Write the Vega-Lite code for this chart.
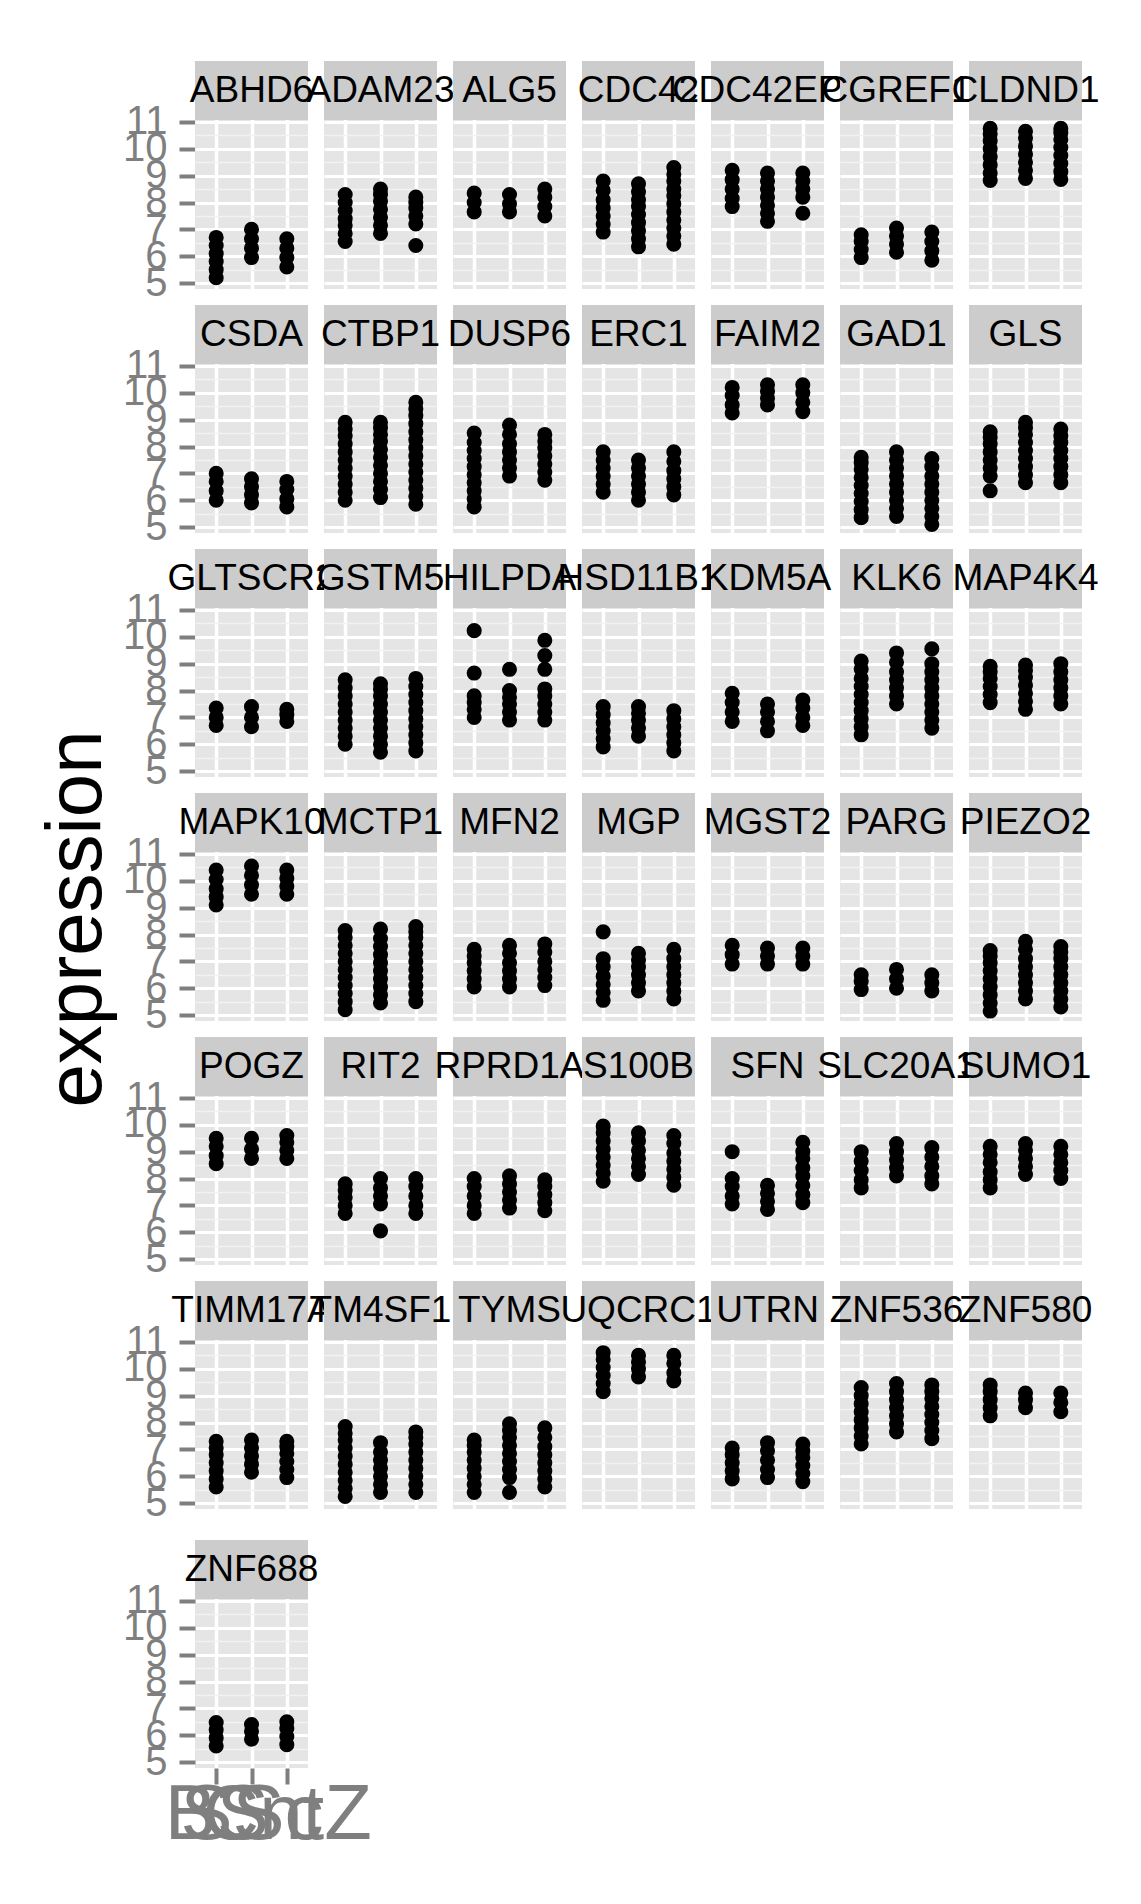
{
"$schema": "https://vega.github.io/schema/vega-lite/v6.json",
"background": "white",
"padding": {"left": 38, "top": 60, "right": 0, "bottom": 0},
"title": {"text": "expression", "orient": "left", "anchor": "middle", "fontSize": 78, "font": "Liberation Sans", "fontWeight": "normal", "color": "black", "offset": 6, "dx": 38},
"config": {
  "view": {"fill": "#E5E5E5", "stroke": null},
  "font": "Liberation Sans",
  "header": {"labels": false, "title": null, "labelFontSize": 1, "labelPadding": 0},
  "headerFacet": {"labels": false, "title": null, "labelFontSize": 1, "labelPadding": 0},
  "axis": {"labelOverlap": false},
  "axisY": {"labelOverlap": false, "labelFlush": false, "labelBound": false},
  "axisX": {"labelOverlap": false, "labelFlush": false, "labelBound": false}
},
"datasets": {"d": [
{"gene":"ABHD6","grp":"BS","expr":5.2},{"gene":"ABHD6","grp":"BS","expr":5.5},{"gene":"ABHD6","grp":"BS","expr":5.8},{"gene":"ABHD6","grp":"BS","expr":6.1},{"gene":"ABHD6","grp":"BS","expr":6.4},{"gene":"ABHD6","grp":"BS","expr":6.7},
{"gene":"ABHD6","grp":"SSc","expr":5.95},{"gene":"ABHD6","grp":"SSc","expr":6.3},{"gene":"ABHD6","grp":"SSc","expr":6.65},{"gene":"ABHD6","grp":"SSc","expr":7.0},
{"gene":"ABHD6","grp":"CntZ","expr":5.6},{"gene":"ABHD6","grp":"CntZ","expr":5.95},{"gene":"ABHD6","grp":"CntZ","expr":6.3},{"gene":"ABHD6","grp":"CntZ","expr":6.65},
{"gene":"ADAM23","grp":"BS","expr":6.55},{"gene":"ADAM23","grp":"BS","expr":6.85},{"gene":"ADAM23","grp":"BS","expr":7.15},{"gene":"ADAM23","grp":"BS","expr":7.4},{"gene":"ADAM23","grp":"BS","expr":7.7},{"gene":"ADAM23","grp":"BS","expr":8.0},{"gene":"ADAM23","grp":"BS","expr":8.3},
{"gene":"ADAM23","grp":"SSc","expr":6.85},{"gene":"ADAM23","grp":"SSc","expr":7.15},{"gene":"ADAM23","grp":"SSc","expr":7.45},{"gene":"ADAM23","grp":"SSc","expr":7.75},{"gene":"ADAM23","grp":"SSc","expr":8.05},{"gene":"ADAM23","grp":"SSc","expr":8.3},{"gene":"ADAM23","grp":"SSc","expr":8.5},
{"gene":"ADAM23","grp":"CntZ","expr":6.4},{"gene":"ADAM23","grp":"CntZ","expr":7.2},{"gene":"ADAM23","grp":"CntZ","expr":7.5},{"gene":"ADAM23","grp":"CntZ","expr":7.8},{"gene":"ADAM23","grp":"CntZ","expr":8.0},{"gene":"ADAM23","grp":"CntZ","expr":8.2},
{"gene":"ALG5","grp":"BS","expr":7.65},{"gene":"ALG5","grp":"BS","expr":8.0},{"gene":"ALG5","grp":"BS","expr":8.35},
{"gene":"ALG5","grp":"SSc","expr":7.65},{"gene":"ALG5","grp":"SSc","expr":7.95},{"gene":"ALG5","grp":"SSc","expr":8.3},
{"gene":"ALG5","grp":"CntZ","expr":7.5},{"gene":"ALG5","grp":"CntZ","expr":7.85},{"gene":"ALG5","grp":"CntZ","expr":8.2},{"gene":"ALG5","grp":"CntZ","expr":8.5},
{"gene":"CDC42","grp":"BS","expr":6.9},{"gene":"CDC42","grp":"BS","expr":7.2},{"gene":"CDC42","grp":"BS","expr":7.5},{"gene":"CDC42","grp":"BS","expr":7.8},{"gene":"CDC42","grp":"BS","expr":8.1},{"gene":"CDC42","grp":"BS","expr":8.45},{"gene":"CDC42","grp":"BS","expr":8.8},
{"gene":"CDC42","grp":"SSc","expr":6.35},{"gene":"CDC42","grp":"SSc","expr":6.65},{"gene":"CDC42","grp":"SSc","expr":6.95},{"gene":"CDC42","grp":"SSc","expr":7.25},{"gene":"CDC42","grp":"SSc","expr":7.55},{"gene":"CDC42","grp":"SSc","expr":7.85},{"gene":"CDC42","grp":"SSc","expr":8.1},{"gene":"CDC42","grp":"SSc","expr":8.4},{"gene":"CDC42","grp":"SSc","expr":8.7},
{"gene":"CDC42","grp":"CntZ","expr":6.45},{"gene":"CDC42","grp":"CntZ","expr":6.75},{"gene":"CDC42","grp":"CntZ","expr":7.05},{"gene":"CDC42","grp":"CntZ","expr":7.35},{"gene":"CDC42","grp":"CntZ","expr":7.65},{"gene":"CDC42","grp":"CntZ","expr":7.95},{"gene":"CDC42","grp":"CntZ","expr":8.25},{"gene":"CDC42","grp":"CntZ","expr":8.5},{"gene":"CDC42","grp":"CntZ","expr":8.8},{"gene":"CDC42","grp":"CntZ","expr":9.05},{"gene":"CDC42","grp":"CntZ","expr":9.3},
{"gene":"CDC42EP3","grp":"BS","expr":7.85},{"gene":"CDC42EP3","grp":"BS","expr":8.15},{"gene":"CDC42EP3","grp":"BS","expr":8.5},{"gene":"CDC42EP3","grp":"BS","expr":8.85},{"gene":"CDC42EP3","grp":"BS","expr":9.2},
{"gene":"CDC42EP3","grp":"SSc","expr":7.3},{"gene":"CDC42EP3","grp":"SSc","expr":7.6},{"gene":"CDC42EP3","grp":"SSc","expr":7.9},{"gene":"CDC42EP3","grp":"SSc","expr":8.2},{"gene":"CDC42EP3","grp":"SSc","expr":8.5},{"gene":"CDC42EP3","grp":"SSc","expr":8.8},{"gene":"CDC42EP3","grp":"SSc","expr":9.1},
{"gene":"CDC42EP3","grp":"CntZ","expr":7.6},{"gene":"CDC42EP3","grp":"CntZ","expr":8.2},{"gene":"CDC42EP3","grp":"CntZ","expr":8.5},{"gene":"CDC42EP3","grp":"CntZ","expr":8.8},{"gene":"CDC42EP3","grp":"CntZ","expr":9.1},
{"gene":"CGREF1","grp":"BS","expr":5.95},{"gene":"CGREF1","grp":"BS","expr":6.25},{"gene":"CGREF1","grp":"BS","expr":6.55},{"gene":"CGREF1","grp":"BS","expr":6.8},
{"gene":"CGREF1","grp":"SSc","expr":6.15},{"gene":"CGREF1","grp":"SSc","expr":6.45},{"gene":"CGREF1","grp":"SSc","expr":6.75},{"gene":"CGREF1","grp":"SSc","expr":7.05},
{"gene":"CGREF1","grp":"CntZ","expr":5.85},{"gene":"CGREF1","grp":"CntZ","expr":6.2},{"gene":"CGREF1","grp":"CntZ","expr":6.55},{"gene":"CGREF1","grp":"CntZ","expr":6.9},
{"gene":"CLDND1","grp":"BS","expr":8.82},{"gene":"CLDND1","grp":"BS","expr":9.1},{"gene":"CLDND1","grp":"BS","expr":9.4},{"gene":"CLDND1","grp":"BS","expr":9.7},{"gene":"CLDND1","grp":"BS","expr":10.0},{"gene":"CLDND1","grp":"BS","expr":10.3},{"gene":"CLDND1","grp":"BS","expr":10.55},{"gene":"CLDND1","grp":"BS","expr":10.76},
{"gene":"CLDND1","grp":"SSc","expr":8.9},{"gene":"CLDND1","grp":"SSc","expr":9.2},{"gene":"CLDND1","grp":"SSc","expr":9.5},{"gene":"CLDND1","grp":"SSc","expr":9.8},{"gene":"CLDND1","grp":"SSc","expr":10.1},{"gene":"CLDND1","grp":"SSc","expr":10.4},{"gene":"CLDND1","grp":"SSc","expr":10.65},
{"gene":"CLDND1","grp":"CntZ","expr":8.86},{"gene":"CLDND1","grp":"CntZ","expr":9.15},{"gene":"CLDND1","grp":"CntZ","expr":9.45},{"gene":"CLDND1","grp":"CntZ","expr":9.75},{"gene":"CLDND1","grp":"CntZ","expr":10.05},{"gene":"CLDND1","grp":"CntZ","expr":10.35},{"gene":"CLDND1","grp":"CntZ","expr":10.6},{"gene":"CLDND1","grp":"CntZ","expr":10.76},
{"gene":"CSDA","grp":"BS","expr":6.0},{"gene":"CSDA","grp":"BS","expr":6.35},{"gene":"CSDA","grp":"BS","expr":6.7},{"gene":"CSDA","grp":"BS","expr":7.0},
{"gene":"CSDA","grp":"SSc","expr":5.9},{"gene":"CSDA","grp":"SSc","expr":6.2},{"gene":"CSDA","grp":"SSc","expr":6.5},{"gene":"CSDA","grp":"SSc","expr":6.8},
{"gene":"CSDA","grp":"CntZ","expr":5.75},{"gene":"CSDA","grp":"CntZ","expr":6.05},{"gene":"CSDA","grp":"CntZ","expr":6.4},{"gene":"CSDA","grp":"CntZ","expr":6.7},
{"gene":"CTBP1","grp":"BS","expr":6.0},{"gene":"CTBP1","grp":"BS","expr":6.3},{"gene":"CTBP1","grp":"BS","expr":6.6},{"gene":"CTBP1","grp":"BS","expr":6.9},{"gene":"CTBP1","grp":"BS","expr":7.2},{"gene":"CTBP1","grp":"BS","expr":7.5},{"gene":"CTBP1","grp":"BS","expr":7.8},{"gene":"CTBP1","grp":"BS","expr":8.1},{"gene":"CTBP1","grp":"BS","expr":8.4},{"gene":"CTBP1","grp":"BS","expr":8.65},{"gene":"CTBP1","grp":"BS","expr":8.9},
{"gene":"CTBP1","grp":"SSc","expr":6.1},{"gene":"CTBP1","grp":"SSc","expr":6.4},{"gene":"CTBP1","grp":"SSc","expr":6.7},{"gene":"CTBP1","grp":"SSc","expr":7.0},{"gene":"CTBP1","grp":"SSc","expr":7.3},{"gene":"CTBP1","grp":"SSc","expr":7.6},{"gene":"CTBP1","grp":"SSc","expr":7.9},{"gene":"CTBP1","grp":"SSc","expr":8.2},{"gene":"CTBP1","grp":"SSc","expr":8.45},{"gene":"CTBP1","grp":"SSc","expr":8.7},{"gene":"CTBP1","grp":"SSc","expr":8.9},
{"gene":"CTBP1","grp":"CntZ","expr":5.85},{"gene":"CTBP1","grp":"CntZ","expr":6.15},{"gene":"CTBP1","grp":"CntZ","expr":6.45},{"gene":"CTBP1","grp":"CntZ","expr":6.75},{"gene":"CTBP1","grp":"CntZ","expr":7.05},{"gene":"CTBP1","grp":"CntZ","expr":7.35},{"gene":"CTBP1","grp":"CntZ","expr":7.65},{"gene":"CTBP1","grp":"CntZ","expr":7.95},{"gene":"CTBP1","grp":"CntZ","expr":8.25},{"gene":"CTBP1","grp":"CntZ","expr":8.55},{"gene":"CTBP1","grp":"CntZ","expr":8.85},{"gene":"CTBP1","grp":"CntZ","expr":9.15},{"gene":"CTBP1","grp":"CntZ","expr":9.4},{"gene":"CTBP1","grp":"CntZ","expr":9.65},
{"gene":"DUSP6","grp":"BS","expr":5.75},{"gene":"DUSP6","grp":"BS","expr":6.05},{"gene":"DUSP6","grp":"BS","expr":6.35},{"gene":"DUSP6","grp":"BS","expr":6.65},{"gene":"DUSP6","grp":"BS","expr":6.95},{"gene":"DUSP6","grp":"BS","expr":7.25},{"gene":"DUSP6","grp":"BS","expr":7.55},{"gene":"DUSP6","grp":"BS","expr":7.85},{"gene":"DUSP6","grp":"BS","expr":8.15},{"gene":"DUSP6","grp":"BS","expr":8.5},
{"gene":"DUSP6","grp":"SSc","expr":6.9},{"gene":"DUSP6","grp":"SSc","expr":7.2},{"gene":"DUSP6","grp":"SSc","expr":7.5},{"gene":"DUSP6","grp":"SSc","expr":7.8},{"gene":"DUSP6","grp":"SSc","expr":8.1},{"gene":"DUSP6","grp":"SSc","expr":8.45},{"gene":"DUSP6","grp":"SSc","expr":8.8},
{"gene":"DUSP6","grp":"CntZ","expr":6.75},{"gene":"DUSP6","grp":"CntZ","expr":7.05},{"gene":"DUSP6","grp":"CntZ","expr":7.35},{"gene":"DUSP6","grp":"CntZ","expr":7.65},{"gene":"DUSP6","grp":"CntZ","expr":7.95},{"gene":"DUSP6","grp":"CntZ","expr":8.2},{"gene":"DUSP6","grp":"CntZ","expr":8.45},
{"gene":"ERC1","grp":"BS","expr":6.3},{"gene":"ERC1","grp":"BS","expr":6.6},{"gene":"ERC1","grp":"BS","expr":6.9},{"gene":"ERC1","grp":"BS","expr":7.2},{"gene":"ERC1","grp":"BS","expr":7.5},{"gene":"ERC1","grp":"BS","expr":7.8},
{"gene":"ERC1","grp":"SSc","expr":6.0},{"gene":"ERC1","grp":"SSc","expr":6.3},{"gene":"ERC1","grp":"SSc","expr":6.6},{"gene":"ERC1","grp":"SSc","expr":6.9},{"gene":"ERC1","grp":"SSc","expr":7.2},{"gene":"ERC1","grp":"SSc","expr":7.5},
{"gene":"ERC1","grp":"CntZ","expr":6.2},{"gene":"ERC1","grp":"CntZ","expr":6.5},{"gene":"ERC1","grp":"CntZ","expr":6.8},{"gene":"ERC1","grp":"CntZ","expr":7.1},{"gene":"ERC1","grp":"CntZ","expr":7.45},{"gene":"ERC1","grp":"CntZ","expr":7.8},
{"gene":"FAIM2","grp":"BS","expr":9.25},{"gene":"FAIM2","grp":"BS","expr":9.55},{"gene":"FAIM2","grp":"BS","expr":9.9},{"gene":"FAIM2","grp":"BS","expr":10.2},
{"gene":"FAIM2","grp":"SSc","expr":9.55},{"gene":"FAIM2","grp":"SSc","expr":9.8},{"gene":"FAIM2","grp":"SSc","expr":10.05},{"gene":"FAIM2","grp":"SSc","expr":10.3},
{"gene":"FAIM2","grp":"CntZ","expr":9.3},{"gene":"FAIM2","grp":"CntZ","expr":9.65},{"gene":"FAIM2","grp":"CntZ","expr":10.0},{"gene":"FAIM2","grp":"CntZ","expr":10.3},
{"gene":"GAD1","grp":"BS","expr":5.35},{"gene":"GAD1","grp":"BS","expr":5.65},{"gene":"GAD1","grp":"BS","expr":5.95},{"gene":"GAD1","grp":"BS","expr":6.25},{"gene":"GAD1","grp":"BS","expr":6.55},{"gene":"GAD1","grp":"BS","expr":6.85},{"gene":"GAD1","grp":"BS","expr":7.15},{"gene":"GAD1","grp":"BS","expr":7.4},{"gene":"GAD1","grp":"BS","expr":7.6},
{"gene":"GAD1","grp":"SSc","expr":5.4},{"gene":"GAD1","grp":"SSc","expr":5.7},{"gene":"GAD1","grp":"SSc","expr":6.0},{"gene":"GAD1","grp":"SSc","expr":6.3},{"gene":"GAD1","grp":"SSc","expr":6.6},{"gene":"GAD1","grp":"SSc","expr":6.9},{"gene":"GAD1","grp":"SSc","expr":7.2},{"gene":"GAD1","grp":"SSc","expr":7.5},{"gene":"GAD1","grp":"SSc","expr":7.8},
{"gene":"GAD1","grp":"CntZ","expr":5.1},{"gene":"GAD1","grp":"CntZ","expr":5.4},{"gene":"GAD1","grp":"CntZ","expr":5.7},{"gene":"GAD1","grp":"CntZ","expr":6.0},{"gene":"GAD1","grp":"CntZ","expr":6.3},{"gene":"GAD1","grp":"CntZ","expr":6.6},{"gene":"GAD1","grp":"CntZ","expr":6.9},{"gene":"GAD1","grp":"CntZ","expr":7.25},{"gene":"GAD1","grp":"CntZ","expr":7.55},
{"gene":"GLS","grp":"BS","expr":6.35},{"gene":"GLS","grp":"BS","expr":6.9},{"gene":"GLS","grp":"BS","expr":7.2},{"gene":"GLS","grp":"BS","expr":7.5},{"gene":"GLS","grp":"BS","expr":7.8},{"gene":"GLS","grp":"BS","expr":8.1},{"gene":"GLS","grp":"BS","expr":8.35},{"gene":"GLS","grp":"BS","expr":8.55},
{"gene":"GLS","grp":"SSc","expr":6.65},{"gene":"GLS","grp":"SSc","expr":6.95},{"gene":"GLS","grp":"SSc","expr":7.25},{"gene":"GLS","grp":"SSc","expr":7.55},{"gene":"GLS","grp":"SSc","expr":7.85},{"gene":"GLS","grp":"SSc","expr":8.15},{"gene":"GLS","grp":"SSc","expr":8.45},{"gene":"GLS","grp":"SSc","expr":8.7},{"gene":"GLS","grp":"SSc","expr":8.9},
{"gene":"GLS","grp":"CntZ","expr":6.65},{"gene":"GLS","grp":"CntZ","expr":6.95},{"gene":"GLS","grp":"CntZ","expr":7.25},{"gene":"GLS","grp":"CntZ","expr":7.55},{"gene":"GLS","grp":"CntZ","expr":7.85},{"gene":"GLS","grp":"CntZ","expr":8.15},{"gene":"GLS","grp":"CntZ","expr":8.4},{"gene":"GLS","grp":"CntZ","expr":8.65},
{"gene":"GLTSCR2","grp":"BS","expr":6.7},{"gene":"GLTSCR2","grp":"BS","expr":7.0},{"gene":"GLTSCR2","grp":"BS","expr":7.35},
{"gene":"GLTSCR2","grp":"SSc","expr":6.65},{"gene":"GLTSCR2","grp":"SSc","expr":7.0},{"gene":"GLTSCR2","grp":"SSc","expr":7.4},
{"gene":"GLTSCR2","grp":"CntZ","expr":6.85},{"gene":"GLTSCR2","grp":"CntZ","expr":7.1},{"gene":"GLTSCR2","grp":"CntZ","expr":7.3},
{"gene":"GSTM5","grp":"BS","expr":6.0},{"gene":"GSTM5","grp":"BS","expr":6.3},{"gene":"GSTM5","grp":"BS","expr":6.6},{"gene":"GSTM5","grp":"BS","expr":6.9},{"gene":"GSTM5","grp":"BS","expr":7.2},{"gene":"GSTM5","grp":"BS","expr":7.5},{"gene":"GSTM5","grp":"BS","expr":7.8},{"gene":"GSTM5","grp":"BS","expr":8.1},{"gene":"GSTM5","grp":"BS","expr":8.4},
{"gene":"GSTM5","grp":"SSc","expr":5.7},{"gene":"GSTM5","grp":"SSc","expr":6.0},{"gene":"GSTM5","grp":"SSc","expr":6.3},{"gene":"GSTM5","grp":"SSc","expr":6.6},{"gene":"GSTM5","grp":"SSc","expr":6.9},{"gene":"GSTM5","grp":"SSc","expr":7.2},{"gene":"GSTM5","grp":"SSc","expr":7.5},{"gene":"GSTM5","grp":"SSc","expr":7.8},{"gene":"GSTM5","grp":"SSc","expr":8.05},{"gene":"GSTM5","grp":"SSc","expr":8.25},
{"gene":"GSTM5","grp":"CntZ","expr":5.75},{"gene":"GSTM5","grp":"CntZ","expr":6.05},{"gene":"GSTM5","grp":"CntZ","expr":6.35},{"gene":"GSTM5","grp":"CntZ","expr":6.65},{"gene":"GSTM5","grp":"CntZ","expr":6.95},{"gene":"GSTM5","grp":"CntZ","expr":7.25},{"gene":"GSTM5","grp":"CntZ","expr":7.55},{"gene":"GSTM5","grp":"CntZ","expr":7.85},{"gene":"GSTM5","grp":"CntZ","expr":8.15},{"gene":"GSTM5","grp":"CntZ","expr":8.45},
{"gene":"HILPDA","grp":"BS","expr":7.0},{"gene":"HILPDA","grp":"BS","expr":7.3},{"gene":"HILPDA","grp":"BS","expr":7.55},{"gene":"HILPDA","grp":"BS","expr":7.8},{"gene":"HILPDA","grp":"BS","expr":8.65},{"gene":"HILPDA","grp":"BS","expr":10.23},
{"gene":"HILPDA","grp":"SSc","expr":6.9},{"gene":"HILPDA","grp":"SSc","expr":7.2},{"gene":"HILPDA","grp":"SSc","expr":7.5},{"gene":"HILPDA","grp":"SSc","expr":7.75},{"gene":"HILPDA","grp":"SSc","expr":8.0},{"gene":"HILPDA","grp":"SSc","expr":8.79},
{"gene":"HILPDA","grp":"CntZ","expr":6.9},{"gene":"HILPDA","grp":"CntZ","expr":7.2},{"gene":"HILPDA","grp":"CntZ","expr":7.5},{"gene":"HILPDA","grp":"CntZ","expr":7.8},{"gene":"HILPDA","grp":"CntZ","expr":8.06},{"gene":"HILPDA","grp":"CntZ","expr":8.79},{"gene":"HILPDA","grp":"CntZ","expr":9.3},{"gene":"HILPDA","grp":"CntZ","expr":9.87},
{"gene":"HSD11B1","grp":"BS","expr":5.9},{"gene":"HSD11B1","grp":"BS","expr":6.2},{"gene":"HSD11B1","grp":"BS","expr":6.5},{"gene":"HSD11B1","grp":"BS","expr":6.8},{"gene":"HSD11B1","grp":"BS","expr":7.1},{"gene":"HSD11B1","grp":"BS","expr":7.4},
{"gene":"HSD11B1","grp":"SSc","expr":6.3},{"gene":"HSD11B1","grp":"SSc","expr":6.6},{"gene":"HSD11B1","grp":"SSc","expr":6.9},{"gene":"HSD11B1","grp":"SSc","expr":7.15},{"gene":"HSD11B1","grp":"SSc","expr":7.4},
{"gene":"HSD11B1","grp":"CntZ","expr":5.75},{"gene":"HSD11B1","grp":"CntZ","expr":6.05},{"gene":"HSD11B1","grp":"CntZ","expr":6.35},{"gene":"HSD11B1","grp":"CntZ","expr":6.65},{"gene":"HSD11B1","grp":"CntZ","expr":6.95},{"gene":"HSD11B1","grp":"CntZ","expr":7.25},
{"gene":"KDM5A","grp":"BS","expr":6.85},{"gene":"KDM5A","grp":"BS","expr":7.2},{"gene":"KDM5A","grp":"BS","expr":7.55},{"gene":"KDM5A","grp":"BS","expr":7.9},
{"gene":"KDM5A","grp":"SSc","expr":6.5},{"gene":"KDM5A","grp":"SSc","expr":6.85},{"gene":"KDM5A","grp":"SSc","expr":7.2},{"gene":"KDM5A","grp":"SSc","expr":7.5},
{"gene":"KDM5A","grp":"CntZ","expr":6.7},{"gene":"KDM5A","grp":"CntZ","expr":7.0},{"gene":"KDM5A","grp":"CntZ","expr":7.35},{"gene":"KDM5A","grp":"CntZ","expr":7.65},
{"gene":"KLK6","grp":"BS","expr":6.35},{"gene":"KLK6","grp":"BS","expr":6.65},{"gene":"KLK6","grp":"BS","expr":6.95},{"gene":"KLK6","grp":"BS","expr":7.25},{"gene":"KLK6","grp":"BS","expr":7.55},{"gene":"KLK6","grp":"BS","expr":7.85},{"gene":"KLK6","grp":"BS","expr":8.15},{"gene":"KLK6","grp":"BS","expr":8.45},{"gene":"KLK6","grp":"BS","expr":8.8},{"gene":"KLK6","grp":"BS","expr":9.1},
{"gene":"KLK6","grp":"SSc","expr":7.5},{"gene":"KLK6","grp":"SSc","expr":7.8},{"gene":"KLK6","grp":"SSc","expr":8.1},{"gene":"KLK6","grp":"SSc","expr":8.4},{"gene":"KLK6","grp":"SSc","expr":8.7},{"gene":"KLK6","grp":"SSc","expr":9.05},{"gene":"KLK6","grp":"SSc","expr":9.4},
{"gene":"KLK6","grp":"CntZ","expr":6.6},{"gene":"KLK6","grp":"CntZ","expr":6.9},{"gene":"KLK6","grp":"CntZ","expr":7.2},{"gene":"KLK6","grp":"CntZ","expr":7.5},{"gene":"KLK6","grp":"CntZ","expr":7.8},{"gene":"KLK6","grp":"CntZ","expr":8.1},{"gene":"KLK6","grp":"CntZ","expr":8.4},{"gene":"KLK6","grp":"CntZ","expr":8.7},{"gene":"KLK6","grp":"CntZ","expr":9.0},{"gene":"KLK6","grp":"CntZ","expr":9.55},
{"gene":"MAP4K4","grp":"BS","expr":7.55},{"gene":"MAP4K4","grp":"BS","expr":7.85},{"gene":"MAP4K4","grp":"BS","expr":8.15},{"gene":"MAP4K4","grp":"BS","expr":8.45},{"gene":"MAP4K4","grp":"BS","expr":8.7},{"gene":"MAP4K4","grp":"BS","expr":8.9},
{"gene":"MAP4K4","grp":"SSc","expr":7.3},{"gene":"MAP4K4","grp":"SSc","expr":7.6},{"gene":"MAP4K4","grp":"SSc","expr":7.9},{"gene":"MAP4K4","grp":"SSc","expr":8.2},{"gene":"MAP4K4","grp":"SSc","expr":8.5},{"gene":"MAP4K4","grp":"SSc","expr":8.75},{"gene":"MAP4K4","grp":"SSc","expr":8.95},
{"gene":"MAP4K4","grp":"CntZ","expr":7.5},{"gene":"MAP4K4","grp":"CntZ","expr":7.8},{"gene":"MAP4K4","grp":"CntZ","expr":8.1},{"gene":"MAP4K4","grp":"CntZ","expr":8.4},{"gene":"MAP4K4","grp":"CntZ","expr":8.7},{"gene":"MAP4K4","grp":"CntZ","expr":9.0},
{"gene":"MAPK10","grp":"BS","expr":9.1},{"gene":"MAPK10","grp":"BS","expr":9.4},{"gene":"MAPK10","grp":"BS","expr":9.7},{"gene":"MAPK10","grp":"BS","expr":10.05},{"gene":"MAPK10","grp":"BS","expr":10.4},
{"gene":"MAPK10","grp":"SSc","expr":9.5},{"gene":"MAPK10","grp":"SSc","expr":9.85},{"gene":"MAPK10","grp":"SSc","expr":10.2},{"gene":"MAPK10","grp":"SSc","expr":10.55},
{"gene":"MAPK10","grp":"CntZ","expr":9.5},{"gene":"MAPK10","grp":"CntZ","expr":9.8},{"gene":"MAPK10","grp":"CntZ","expr":10.1},{"gene":"MAPK10","grp":"CntZ","expr":10.4},
{"gene":"MCTP1","grp":"BS","expr":5.2},{"gene":"MCTP1","grp":"BS","expr":5.5},{"gene":"MCTP1","grp":"BS","expr":5.8},{"gene":"MCTP1","grp":"BS","expr":6.1},{"gene":"MCTP1","grp":"BS","expr":6.4},{"gene":"MCTP1","grp":"BS","expr":6.7},{"gene":"MCTP1","grp":"BS","expr":7.0},{"gene":"MCTP1","grp":"BS","expr":7.3},{"gene":"MCTP1","grp":"BS","expr":7.6},{"gene":"MCTP1","grp":"BS","expr":7.9},{"gene":"MCTP1","grp":"BS","expr":8.15},
{"gene":"MCTP1","grp":"SSc","expr":5.45},{"gene":"MCTP1","grp":"SSc","expr":5.75},{"gene":"MCTP1","grp":"SSc","expr":6.05},{"gene":"MCTP1","grp":"SSc","expr":6.35},{"gene":"MCTP1","grp":"SSc","expr":6.65},{"gene":"MCTP1","grp":"SSc","expr":6.95},{"gene":"MCTP1","grp":"SSc","expr":7.25},{"gene":"MCTP1","grp":"SSc","expr":7.55},{"gene":"MCTP1","grp":"SSc","expr":7.85},{"gene":"MCTP1","grp":"SSc","expr":8.2},
{"gene":"MCTP1","grp":"CntZ","expr":5.5},{"gene":"MCTP1","grp":"CntZ","expr":5.8},{"gene":"MCTP1","grp":"CntZ","expr":6.1},{"gene":"MCTP1","grp":"CntZ","expr":6.4},{"gene":"MCTP1","grp":"CntZ","expr":6.7},{"gene":"MCTP1","grp":"CntZ","expr":7.0},{"gene":"MCTP1","grp":"CntZ","expr":7.3},{"gene":"MCTP1","grp":"CntZ","expr":7.6},{"gene":"MCTP1","grp":"CntZ","expr":7.9},{"gene":"MCTP1","grp":"CntZ","expr":8.1},{"gene":"MCTP1","grp":"CntZ","expr":8.3},
{"gene":"MFN2","grp":"BS","expr":6.05},{"gene":"MFN2","grp":"BS","expr":6.35},{"gene":"MFN2","grp":"BS","expr":6.65},{"gene":"MFN2","grp":"BS","expr":6.95},{"gene":"MFN2","grp":"BS","expr":7.2},{"gene":"MFN2","grp":"BS","expr":7.45},
{"gene":"MFN2","grp":"SSc","expr":6.05},{"gene":"MFN2","grp":"SSc","expr":6.35},{"gene":"MFN2","grp":"SSc","expr":6.65},{"gene":"MFN2","grp":"SSc","expr":6.95},{"gene":"MFN2","grp":"SSc","expr":7.3},{"gene":"MFN2","grp":"SSc","expr":7.6},
{"gene":"MFN2","grp":"CntZ","expr":6.1},{"gene":"MFN2","grp":"CntZ","expr":6.4},{"gene":"MFN2","grp":"CntZ","expr":6.7},{"gene":"MFN2","grp":"CntZ","expr":7.0},{"gene":"MFN2","grp":"CntZ","expr":7.35},{"gene":"MFN2","grp":"CntZ","expr":7.65},
{"gene":"MGP","grp":"BS","expr":5.55},{"gene":"MGP","grp":"BS","expr":5.85},{"gene":"MGP","grp":"BS","expr":6.15},{"gene":"MGP","grp":"BS","expr":6.45},{"gene":"MGP","grp":"BS","expr":6.8},{"gene":"MGP","grp":"BS","expr":7.1},{"gene":"MGP","grp":"BS","expr":8.1},
{"gene":"MGP","grp":"SSc","expr":5.9},{"gene":"MGP","grp":"SSc","expr":6.2},{"gene":"MGP","grp":"SSc","expr":6.5},{"gene":"MGP","grp":"SSc","expr":6.8},{"gene":"MGP","grp":"SSc","expr":7.05},{"gene":"MGP","grp":"SSc","expr":7.3},
{"gene":"MGP","grp":"CntZ","expr":5.6},{"gene":"MGP","grp":"CntZ","expr":5.9},{"gene":"MGP","grp":"CntZ","expr":6.2},{"gene":"MGP","grp":"CntZ","expr":6.5},{"gene":"MGP","grp":"CntZ","expr":6.8},{"gene":"MGP","grp":"CntZ","expr":7.1},{"gene":"MGP","grp":"CntZ","expr":7.45},
{"gene":"MGST2","grp":"BS","expr":6.9},{"gene":"MGST2","grp":"BS","expr":7.25},{"gene":"MGST2","grp":"BS","expr":7.6},
{"gene":"MGST2","grp":"SSc","expr":6.9},{"gene":"MGST2","grp":"SSc","expr":7.2},{"gene":"MGST2","grp":"SSc","expr":7.5},
{"gene":"MGST2","grp":"CntZ","expr":6.9},{"gene":"MGST2","grp":"CntZ","expr":7.2},{"gene":"MGST2","grp":"CntZ","expr":7.5},
{"gene":"PARG","grp":"BS","expr":5.95},{"gene":"PARG","grp":"BS","expr":6.25},{"gene":"PARG","grp":"BS","expr":6.5},
{"gene":"PARG","grp":"SSc","expr":6.0},{"gene":"PARG","grp":"SSc","expr":6.35},{"gene":"PARG","grp":"SSc","expr":6.7},
{"gene":"PARG","grp":"CntZ","expr":5.9},{"gene":"PARG","grp":"CntZ","expr":6.2},{"gene":"PARG","grp":"CntZ","expr":6.5},
{"gene":"PIEZO2","grp":"BS","expr":5.15},{"gene":"PIEZO2","grp":"BS","expr":5.45},{"gene":"PIEZO2","grp":"BS","expr":5.75},{"gene":"PIEZO2","grp":"BS","expr":6.05},{"gene":"PIEZO2","grp":"BS","expr":6.35},{"gene":"PIEZO2","grp":"BS","expr":6.65},{"gene":"PIEZO2","grp":"BS","expr":6.95},{"gene":"PIEZO2","grp":"BS","expr":7.2},{"gene":"PIEZO2","grp":"BS","expr":7.4},
{"gene":"PIEZO2","grp":"SSc","expr":5.6},{"gene":"PIEZO2","grp":"SSc","expr":5.9},{"gene":"PIEZO2","grp":"SSc","expr":6.2},{"gene":"PIEZO2","grp":"SSc","expr":6.5},{"gene":"PIEZO2","grp":"SSc","expr":6.8},{"gene":"PIEZO2","grp":"SSc","expr":7.1},{"gene":"PIEZO2","grp":"SSc","expr":7.45},{"gene":"PIEZO2","grp":"SSc","expr":7.75},
{"gene":"PIEZO2","grp":"CntZ","expr":5.3},{"gene":"PIEZO2","grp":"CntZ","expr":5.6},{"gene":"PIEZO2","grp":"CntZ","expr":5.9},{"gene":"PIEZO2","grp":"CntZ","expr":6.2},{"gene":"PIEZO2","grp":"CntZ","expr":6.5},{"gene":"PIEZO2","grp":"CntZ","expr":6.8},{"gene":"PIEZO2","grp":"CntZ","expr":7.1},{"gene":"PIEZO2","grp":"CntZ","expr":7.35},{"gene":"PIEZO2","grp":"CntZ","expr":7.55},
{"gene":"POGZ","grp":"BS","expr":8.55},{"gene":"POGZ","grp":"BS","expr":8.85},{"gene":"POGZ","grp":"BS","expr":9.2},{"gene":"POGZ","grp":"BS","expr":9.5},
{"gene":"POGZ","grp":"SSc","expr":8.75},{"gene":"POGZ","grp":"SSc","expr":9.1},{"gene":"POGZ","grp":"SSc","expr":9.5},
{"gene":"POGZ","grp":"CntZ","expr":8.75},{"gene":"POGZ","grp":"CntZ","expr":9.05},{"gene":"POGZ","grp":"CntZ","expr":9.35},{"gene":"POGZ","grp":"CntZ","expr":9.6},
{"gene":"RIT2","grp":"BS","expr":6.7},{"gene":"RIT2","grp":"BS","expr":7.0},{"gene":"RIT2","grp":"BS","expr":7.3},{"gene":"RIT2","grp":"BS","expr":7.55},{"gene":"RIT2","grp":"BS","expr":7.8},
{"gene":"RIT2","grp":"SSc","expr":6.05},{"gene":"RIT2","grp":"SSc","expr":7.05},{"gene":"RIT2","grp":"SSc","expr":7.35},{"gene":"RIT2","grp":"SSc","expr":7.65},{"gene":"RIT2","grp":"SSc","expr":8.0},
{"gene":"RIT2","grp":"CntZ","expr":6.7},{"gene":"RIT2","grp":"CntZ","expr":7.0},{"gene":"RIT2","grp":"CntZ","expr":7.35},{"gene":"RIT2","grp":"CntZ","expr":7.7},{"gene":"RIT2","grp":"CntZ","expr":8.0},
{"gene":"RPRD1A","grp":"BS","expr":6.7},{"gene":"RPRD1A","grp":"BS","expr":7.0},{"gene":"RPRD1A","grp":"BS","expr":7.35},{"gene":"RPRD1A","grp":"BS","expr":7.7},{"gene":"RPRD1A","grp":"BS","expr":8.0},
{"gene":"RPRD1A","grp":"SSc","expr":6.9},{"gene":"RPRD1A","grp":"SSc","expr":7.2},{"gene":"RPRD1A","grp":"SSc","expr":7.5},{"gene":"RPRD1A","grp":"SSc","expr":7.8},{"gene":"RPRD1A","grp":"SSc","expr":8.1},
{"gene":"RPRD1A","grp":"CntZ","expr":6.8},{"gene":"RPRD1A","grp":"CntZ","expr":7.1},{"gene":"RPRD1A","grp":"CntZ","expr":7.4},{"gene":"RPRD1A","grp":"CntZ","expr":7.7},{"gene":"RPRD1A","grp":"CntZ","expr":7.95},
{"gene":"S100B","grp":"BS","expr":7.9},{"gene":"S100B","grp":"BS","expr":8.2},{"gene":"S100B","grp":"BS","expr":8.5},{"gene":"S100B","grp":"BS","expr":8.8},{"gene":"S100B","grp":"BS","expr":9.1},{"gene":"S100B","grp":"BS","expr":9.4},{"gene":"S100B","grp":"BS","expr":9.7},{"gene":"S100B","grp":"BS","expr":9.95},
{"gene":"S100B","grp":"SSc","expr":8.15},{"gene":"S100B","grp":"SSc","expr":8.45},{"gene":"S100B","grp":"SSc","expr":8.75},{"gene":"S100B","grp":"SSc","expr":9.05},{"gene":"S100B","grp":"SSc","expr":9.4},{"gene":"S100B","grp":"SSc","expr":9.7},
{"gene":"S100B","grp":"CntZ","expr":7.75},{"gene":"S100B","grp":"CntZ","expr":8.05},{"gene":"S100B","grp":"CntZ","expr":8.35},{"gene":"S100B","grp":"CntZ","expr":8.65},{"gene":"S100B","grp":"CntZ","expr":8.95},{"gene":"S100B","grp":"CntZ","expr":9.3},{"gene":"S100B","grp":"CntZ","expr":9.6},
{"gene":"SFN","grp":"BS","expr":7.05},{"gene":"SFN","grp":"BS","expr":7.35},{"gene":"SFN","grp":"BS","expr":7.7},{"gene":"SFN","grp":"BS","expr":8.0},{"gene":"SFN","grp":"BS","expr":9.0},
{"gene":"SFN","grp":"SSc","expr":6.85},{"gene":"SFN","grp":"SSc","expr":7.15},{"gene":"SFN","grp":"SSc","expr":7.45},{"gene":"SFN","grp":"SSc","expr":7.75},
{"gene":"SFN","grp":"CntZ","expr":7.1},{"gene":"SFN","grp":"CntZ","expr":7.4},{"gene":"SFN","grp":"CntZ","expr":7.75},{"gene":"SFN","grp":"CntZ","expr":8.1},{"gene":"SFN","grp":"CntZ","expr":8.4},{"gene":"SFN","grp":"CntZ","expr":8.75},{"gene":"SFN","grp":"CntZ","expr":9.0},{"gene":"SFN","grp":"CntZ","expr":9.35},
{"gene":"SLC20A1","grp":"BS","expr":7.65},{"gene":"SLC20A1","grp":"BS","expr":7.95},{"gene":"SLC20A1","grp":"BS","expr":8.3},{"gene":"SLC20A1","grp":"BS","expr":8.65},{"gene":"SLC20A1","grp":"BS","expr":9.0},
{"gene":"SLC20A1","grp":"SSc","expr":8.1},{"gene":"SLC20A1","grp":"SSc","expr":8.4},{"gene":"SLC20A1","grp":"SSc","expr":8.7},{"gene":"SLC20A1","grp":"SSc","expr":9.0},{"gene":"SLC20A1","grp":"SSc","expr":9.3},
{"gene":"SLC20A1","grp":"CntZ","expr":7.8},{"gene":"SLC20A1","grp":"CntZ","expr":8.1},{"gene":"SLC20A1","grp":"CntZ","expr":8.45},{"gene":"SLC20A1","grp":"CntZ","expr":8.8},{"gene":"SLC20A1","grp":"CntZ","expr":9.15},
{"gene":"SUMO1","grp":"BS","expr":7.65},{"gene":"SUMO1","grp":"BS","expr":7.95},{"gene":"SUMO1","grp":"BS","expr":8.25},{"gene":"SUMO1","grp":"BS","expr":8.6},{"gene":"SUMO1","grp":"BS","expr":8.9},{"gene":"SUMO1","grp":"BS","expr":9.2},
{"gene":"SUMO1","grp":"SSc","expr":8.15},{"gene":"SUMO1","grp":"SSc","expr":8.45},{"gene":"SUMO1","grp":"SSc","expr":8.75},{"gene":"SUMO1","grp":"SSc","expr":9.05},{"gene":"SUMO1","grp":"SSc","expr":9.3},
{"gene":"SUMO1","grp":"CntZ","expr":8.0},{"gene":"SUMO1","grp":"CntZ","expr":8.3},{"gene":"SUMO1","grp":"CntZ","expr":8.6},{"gene":"SUMO1","grp":"CntZ","expr":8.9},{"gene":"SUMO1","grp":"CntZ","expr":9.2},
{"gene":"TIMM17A","grp":"BS","expr":5.6},{"gene":"TIMM17A","grp":"BS","expr":5.9},{"gene":"TIMM17A","grp":"BS","expr":6.2},{"gene":"TIMM17A","grp":"BS","expr":6.5},{"gene":"TIMM17A","grp":"BS","expr":6.8},{"gene":"TIMM17A","grp":"BS","expr":7.05},{"gene":"TIMM17A","grp":"BS","expr":7.3},
{"gene":"TIMM17A","grp":"SSc","expr":6.15},{"gene":"TIMM17A","grp":"SSc","expr":6.45},{"gene":"TIMM17A","grp":"SSc","expr":6.75},{"gene":"TIMM17A","grp":"SSc","expr":7.05},{"gene":"TIMM17A","grp":"SSc","expr":7.35},
{"gene":"TIMM17A","grp":"CntZ","expr":5.95},{"gene":"TIMM17A","grp":"CntZ","expr":6.25},{"gene":"TIMM17A","grp":"CntZ","expr":6.55},{"gene":"TIMM17A","grp":"CntZ","expr":6.85},{"gene":"TIMM17A","grp":"CntZ","expr":7.1},{"gene":"TIMM17A","grp":"CntZ","expr":7.3},
{"gene":"TM4SF1","grp":"BS","expr":5.25},{"gene":"TM4SF1","grp":"BS","expr":5.55},{"gene":"TM4SF1","grp":"BS","expr":5.85},{"gene":"TM4SF1","grp":"BS","expr":6.15},{"gene":"TM4SF1","grp":"BS","expr":6.45},{"gene":"TM4SF1","grp":"BS","expr":6.75},{"gene":"TM4SF1","grp":"BS","expr":7.05},{"gene":"TM4SF1","grp":"BS","expr":7.35},{"gene":"TM4SF1","grp":"BS","expr":7.6},{"gene":"TM4SF1","grp":"BS","expr":7.85},
{"gene":"TM4SF1","grp":"SSc","expr":5.4},{"gene":"TM4SF1","grp":"SSc","expr":5.7},{"gene":"TM4SF1","grp":"SSc","expr":6.0},{"gene":"TM4SF1","grp":"SSc","expr":6.3},{"gene":"TM4SF1","grp":"SSc","expr":6.6},{"gene":"TM4SF1","grp":"SSc","expr":6.9},{"gene":"TM4SF1","grp":"SSc","expr":7.25},
{"gene":"TM4SF1","grp":"CntZ","expr":5.4},{"gene":"TM4SF1","grp":"CntZ","expr":5.7},{"gene":"TM4SF1","grp":"CntZ","expr":6.0},{"gene":"TM4SF1","grp":"CntZ","expr":6.3},{"gene":"TM4SF1","grp":"CntZ","expr":6.6},{"gene":"TM4SF1","grp":"CntZ","expr":6.9},{"gene":"TM4SF1","grp":"CntZ","expr":7.2},{"gene":"TM4SF1","grp":"CntZ","expr":7.45},{"gene":"TM4SF1","grp":"CntZ","expr":7.65},
{"gene":"TYMS","grp":"BS","expr":5.4},{"gene":"TYMS","grp":"BS","expr":5.7},{"gene":"TYMS","grp":"BS","expr":6.0},{"gene":"TYMS","grp":"BS","expr":6.3},{"gene":"TYMS","grp":"BS","expr":6.6},{"gene":"TYMS","grp":"BS","expr":6.9},{"gene":"TYMS","grp":"BS","expr":7.15},{"gene":"TYMS","grp":"BS","expr":7.35},
{"gene":"TYMS","grp":"SSc","expr":5.4},{"gene":"TYMS","grp":"SSc","expr":5.95},{"gene":"TYMS","grp":"SSc","expr":6.25},{"gene":"TYMS","grp":"SSc","expr":6.55},{"gene":"TYMS","grp":"SSc","expr":6.85},{"gene":"TYMS","grp":"SSc","expr":7.15},{"gene":"TYMS","grp":"SSc","expr":7.45},{"gene":"TYMS","grp":"SSc","expr":7.7},{"gene":"TYMS","grp":"SSc","expr":7.95},
{"gene":"TYMS","grp":"CntZ","expr":5.6},{"gene":"TYMS","grp":"CntZ","expr":5.9},{"gene":"TYMS","grp":"CntZ","expr":6.2},{"gene":"TYMS","grp":"CntZ","expr":6.5},{"gene":"TYMS","grp":"CntZ","expr":6.8},{"gene":"TYMS","grp":"CntZ","expr":7.1},{"gene":"TYMS","grp":"CntZ","expr":7.45},{"gene":"TYMS","grp":"CntZ","expr":7.8},
{"gene":"UQCRC1","grp":"BS","expr":9.15},{"gene":"UQCRC1","grp":"BS","expr":9.45},{"gene":"UQCRC1","grp":"BS","expr":9.75},{"gene":"UQCRC1","grp":"BS","expr":10.05},{"gene":"UQCRC1","grp":"BS","expr":10.35},{"gene":"UQCRC1","grp":"BS","expr":10.6},
{"gene":"UQCRC1","grp":"SSc","expr":9.7},{"gene":"UQCRC1","grp":"SSc","expr":10.0},{"gene":"UQCRC1","grp":"SSc","expr":10.25},{"gene":"UQCRC1","grp":"SSc","expr":10.5},
{"gene":"UQCRC1","grp":"CntZ","expr":9.55},{"gene":"UQCRC1","grp":"CntZ","expr":9.85},{"gene":"UQCRC1","grp":"CntZ","expr":10.2},{"gene":"UQCRC1","grp":"CntZ","expr":10.5},
{"gene":"UTRN","grp":"BS","expr":5.9},{"gene":"UTRN","grp":"BS","expr":6.2},{"gene":"UTRN","grp":"BS","expr":6.5},{"gene":"UTRN","grp":"BS","expr":6.8},{"gene":"UTRN","grp":"BS","expr":7.05},
{"gene":"UTRN","grp":"SSc","expr":5.95},{"gene":"UTRN","grp":"SSc","expr":6.25},{"gene":"UTRN","grp":"SSc","expr":6.6},{"gene":"UTRN","grp":"SSc","expr":6.95},{"gene":"UTRN","grp":"SSc","expr":7.25},
{"gene":"UTRN","grp":"CntZ","expr":5.8},{"gene":"UTRN","grp":"CntZ","expr":6.1},{"gene":"UTRN","grp":"CntZ","expr":6.4},{"gene":"UTRN","grp":"CntZ","expr":6.7},{"gene":"UTRN","grp":"CntZ","expr":6.95},{"gene":"UTRN","grp":"CntZ","expr":7.2},
{"gene":"ZNF536","grp":"BS","expr":7.2},{"gene":"ZNF536","grp":"BS","expr":7.5},{"gene":"ZNF536","grp":"BS","expr":7.8},{"gene":"ZNF536","grp":"BS","expr":8.1},{"gene":"ZNF536","grp":"BS","expr":8.4},{"gene":"ZNF536","grp":"BS","expr":8.7},{"gene":"ZNF536","grp":"BS","expr":9.0},{"gene":"ZNF536","grp":"BS","expr":9.3},
{"gene":"ZNF536","grp":"SSc","expr":7.65},{"gene":"ZNF536","grp":"SSc","expr":7.95},{"gene":"ZNF536","grp":"SSc","expr":8.25},{"gene":"ZNF536","grp":"SSc","expr":8.55},{"gene":"ZNF536","grp":"SSc","expr":8.85},{"gene":"ZNF536","grp":"SSc","expr":9.15},{"gene":"ZNF536","grp":"SSc","expr":9.45},
{"gene":"ZNF536","grp":"CntZ","expr":7.4},{"gene":"ZNF536","grp":"CntZ","expr":7.7},{"gene":"ZNF536","grp":"CntZ","expr":8.0},{"gene":"ZNF536","grp":"CntZ","expr":8.3},{"gene":"ZNF536","grp":"CntZ","expr":8.6},{"gene":"ZNF536","grp":"CntZ","expr":8.9},{"gene":"ZNF536","grp":"CntZ","expr":9.15},{"gene":"ZNF536","grp":"CntZ","expr":9.4},
{"gene":"ZNF580","grp":"BS","expr":8.25},{"gene":"ZNF580","grp":"BS","expr":8.55},{"gene":"ZNF580","grp":"BS","expr":8.85},{"gene":"ZNF580","grp":"BS","expr":9.15},{"gene":"ZNF580","grp":"BS","expr":9.4},
{"gene":"ZNF580","grp":"SSc","expr":8.55},{"gene":"ZNF580","grp":"SSc","expr":8.85},{"gene":"ZNF580","grp":"SSc","expr":9.1},
{"gene":"ZNF580","grp":"CntZ","expr":8.4},{"gene":"ZNF580","grp":"CntZ","expr":8.75},{"gene":"ZNF580","grp":"CntZ","expr":9.1},
{"gene":"ZNF688","grp":"BS","expr":5.6},{"gene":"ZNF688","grp":"BS","expr":5.9},{"gene":"ZNF688","grp":"BS","expr":6.2},{"gene":"ZNF688","grp":"BS","expr":6.47},
{"gene":"ZNF688","grp":"SSc","expr":5.85},{"gene":"ZNF688","grp":"SSc","expr":6.15},{"gene":"ZNF688","grp":"SSc","expr":6.4},
{"gene":"ZNF688","grp":"CntZ","expr":5.65},{"gene":"ZNF688","grp":"CntZ","expr":5.95},{"gene":"ZNF688","grp":"CntZ","expr":6.25},{"gene":"ZNF688","grp":"CntZ","expr":6.5}
]},
"spacing": 16,
"vconcat": [
{
  "data": {"name": "d"},
  "transform": [{"filter": "datum.gene !== 'ZNF688'"}],
  "facet": {"field": "gene", "type": "nominal", "header": {"labels": false, "title": null, "labelFontSize": 1, "labelPadding": 0, "labelExpr": "''"}},
  "columns": 7,
  "bounds": "flush",
  "spacing": {"row": 16, "column": 16},
  "spec": {
    "width": 113,
    "height": 228,
    "layer": [
      {
        "mark": {"type": "circle", "size": 227, "color": "black", "opacity": 1},
        "encoding": {
          "x": {"field": "grp", "type": "nominal",
                "scale": {"type": "point", "padding": 0.6, "domain": ["BS", "SSc", "CntZ"]},
                "axis": {"title": null, "labels": false, "ticks": false, "domain": false, "grid": true, "gridColor": "white", "gridWidth": 3.5}},
          "y": {"field": "expr", "type": "quantitative",
                "scale": {"domain": [4.78, 13.27], "nice": false, "zero": false},
                "axis": {"title": null, "values": [5, 5.5, 6, 6.5, 7, 7.5, 8, 8.5, 9, 9.5, 10, 10.5, 11], "tickCount": 100,
                         "labelExpr": "datum.value % 1 === 0 ? '' + datum.value : ''",
                         "labelFontSize": 40, "labelColor": "#7F7F7F", "labelFont": "Liberation Sans", "labelPadding": 12,
                         "labelOverlap": false, "labelFlush": false, "labelBound": false,
                         "tickSize": 16, "tickWidth": 4,
                         "tickColor": {"condition": {"test": "datum.value % 1 !== 0", "value": "transparent"}, "value": "#7F7F7F"},
                         "domain": false, "grid": true,
                         "gridColor": {"condition": {"test": "datum.value % 1 !== 0", "value": "#F2F2F2"}, "value": "white"},
                         "gridWidth": {"condition": {"test": "datum.value % 1 !== 0", "value": 1.5}, "value": 3}}}
        }
      },
      {
        "transform": [{"aggregate": [{"op": "count", "as": "n"}], "groupby": ["gene"]}],
        "mark": {"type": "rect", "color": "#CCCCCC"},
        "encoding": {
          "x": {"value": 0},
          "x2": {"value": "width"},
          "y": {"datum": 11.07, "type": "quantitative"},
          "y2": {"value": 0}
        }
      },
      {
        "transform": [{"aggregate": [{"op": "count", "as": "n"}], "groupby": ["gene"]}],
        "mark": {"type": "text", "fontSize": 37, "color": "black", "align": "center", "baseline": "middle", "font": "Liberation Sans"},
        "encoding": {
          "x": {"datum": "SSc", "type": "nominal"},
          "y": {"datum": 12.17, "type": "quantitative"},
          "text": {"field": "gene", "type": "nominal"}
        }
      }
    ]
  }
},
{
  "data": {"name": "d"},
  "transform": [{"filter": "datum.gene === 'ZNF688'"}],
  "width": 113,
  "height": 228,
  "layer": [
      {
        "mark": {"type": "circle", "size": 227, "color": "black", "opacity": 1},
        "encoding": {
          "x": {"field": "grp", "type": "nominal",
                "scale": {"type": "point", "padding": 0.6, "domain": ["BS", "SSc", "CntZ"]},
                "axis": {"title": null, "labels": true, "labelAngle": 0, "labelFontSize": 78, "labelColor": "#7F7F7F", "labelFont": "Liberation Sans",
                         "labelPadding": -8, "labelOverlap": false, "labelLimit": 0, "labelBound": false, "labelFlush": false,
                         "ticks": true, "tickSize": 16, "tickWidth": 4, "tickColor": "#7F7F7F",
                         "domain": false, "grid": true, "gridColor": "white", "gridWidth": 3.5}},
          "y": {"field": "expr", "type": "quantitative",
                "scale": {"domain": [4.78, 13.27], "nice": false, "zero": false},
                "axis": {"title": null, "values": [5, 5.5, 6, 6.5, 7, 7.5, 8, 8.5, 9, 9.5, 10, 10.5, 11], "tickCount": 100,
                         "labelExpr": "datum.value % 1 === 0 ? '' + datum.value : ''",
                         "labelFontSize": 40, "labelColor": "#7F7F7F", "labelFont": "Liberation Sans", "labelPadding": 12,
                         "labelOverlap": false, "labelFlush": false, "labelBound": false,
                         "tickSize": 16, "tickWidth": 4,
                         "tickColor": {"condition": {"test": "datum.value % 1 !== 0", "value": "transparent"}, "value": "#7F7F7F"},
                         "domain": false, "grid": true,
                         "gridColor": {"condition": {"test": "datum.value % 1 !== 0", "value": "#F2F2F2"}, "value": "white"},
                         "gridWidth": {"condition": {"test": "datum.value % 1 !== 0", "value": 1.5}, "value": 3}}}
        }
      },
      {
        "transform": [{"aggregate": [{"op": "count", "as": "n"}], "groupby": ["gene"]}],
        "mark": {"type": "rect", "color": "#CCCCCC"},
        "encoding": {
          "x": {"value": 0},
          "x2": {"value": "width"},
          "y": {"datum": 11.07, "type": "quantitative"},
          "y2": {"value": 0}
        }
      },
      {
        "transform": [{"aggregate": [{"op": "count", "as": "n"}], "groupby": ["gene"]}],
        "mark": {"type": "text", "fontSize": 37, "color": "black", "align": "center", "baseline": "middle", "font": "Liberation Sans"},
        "encoding": {
          "x": {"datum": "SSc", "type": "nominal"},
          "y": {"datum": 12.17, "type": "quantitative"},
          "text": {"field": "gene", "type": "nominal"}
        }
      }
  ]
}
]
}
